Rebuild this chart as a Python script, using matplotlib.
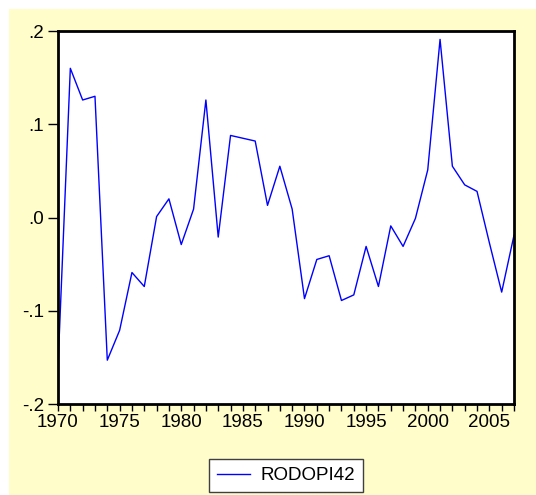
import matplotlib
matplotlib.use("Agg")
import matplotlib.pyplot as plt
from matplotlib.patches import Rectangle
from matplotlib.ticker import FuncFormatter, MultipleLocator

plt.rcParams["font.family"] = ["Liberation Sans", "DejaVu Sans"]

years = list(range(1970, 2008))
rodopi42 = [-0.160, 0.160, 0.126, 0.130, -0.153, -0.121, -0.059, -0.074,
            0.001, 0.020, -0.029, 0.009, 0.126, -0.021, 0.088, 0.085,
            0.082, 0.013, 0.055, 0.009, -0.087, -0.045, -0.041, -0.089,
            -0.083, -0.031, -0.074, -0.009, -0.031, -0.001, 0.051, 0.191,
            0.055, 0.035, 0.028, -0.027, -0.080, -0.019]
series_name = "RODOPI42"
x_labels = [1970, 1975, 1980, 1985, 1990, 1995, 2000, 2005]
y_ticks = [-0.2, -0.1, 0.0, 0.1, 0.2]

fig = plt.figure(figsize=(5.36, 4.95), dpi=100)
fig.patch.set_facecolor("white")
# yellow panel behind the chart
fig.patches.append(Rectangle((9 / 536, 0), 1, 1 - 9 / 495, transform=fig.transFigure,
                             facecolor="#fffdc9", edgecolor="none", zorder=-1))

ax = fig.add_axes([58 / 536, 1 - 404 / 495, (514 - 58) / 536, (404 - 31) / 495])
ax.set_facecolor("white")
line, = ax.plot(years, rodopi42, color="#0000ff", lw=1.0)

ax.set_xlim(1970, 2007)
ax.set_ylim(-0.2, 0.2)
ax.set_xticks(x_labels)
ax.xaxis.set_minor_locator(MultipleLocator(1))
ax.set_yticks(y_ticks)


def fmt(v, pos):
    s = "%.1f" % v
    if s == "-0.0":
        s = "0.0"
    return s.replace("0.", ".", 1)


ax.yaxis.set_major_formatter(FuncFormatter(fmt))

for s in ax.spines.values():
    s.set_linewidth(2)
    s.set_color("black")

ax.tick_params(axis="y", which="major", direction="out", length=7, width=1,
               labelsize=13.5, pad=3, right=False)
ax.tick_params(axis="x", which="both", direction="out", length=5, width=1,
               labelsize=13.5, pad=2, top=False)

leg = fig.legend([line], [series_name], loc="center",
                 bbox_to_anchor=(286 / 536, 1 - 475.5 / 495),
                 fontsize=13.5, handlelength=1.76, fancybox=False,
                 framealpha=1, borderpad=0.4, handletextpad=0.6)
leg.get_frame().set_edgecolor("#404040")
leg.get_frame().set_linewidth(1)

fig.savefig("out.png", dpi=100)
